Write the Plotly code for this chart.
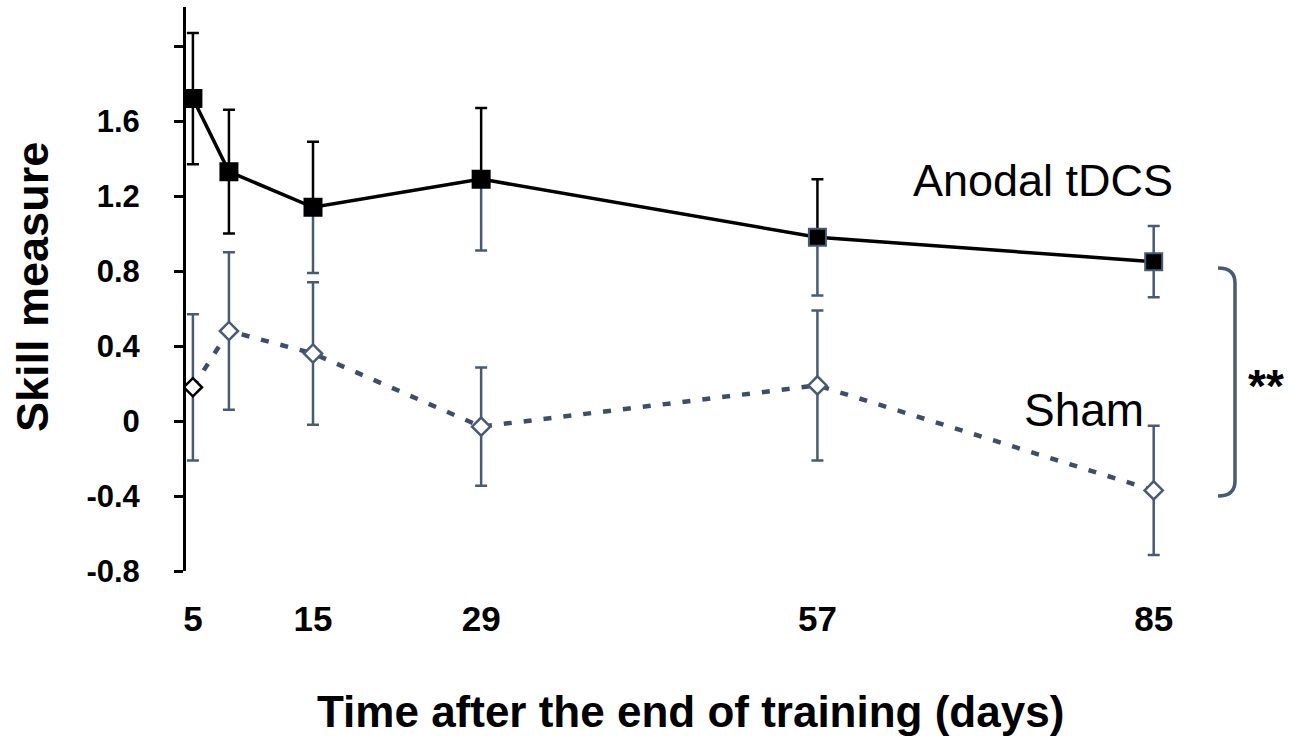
import plotly.graph_objects as go

# ---------------- data ----------------
days = [5, 8, 15, 29, 57, 85]
anodal = [1.72, 1.33, 1.14, 1.29, 0.98, 0.85]
anodal_err = [0.35, 0.33, 0.35, 0.38, 0.31, 0.19]
sham = [0.18, 0.48, 0.36, -0.03, 0.19, -0.37]
sham_err = [0.39, 0.42, 0.38, 0.315, 0.40, 0.345]

x_tick_vals = [5, 15, 29, 57, 85]
x_tick_text = ["5", "15", "29", "57", "85"]
y_tick_vals = [-0.8, -0.4, 0, 0.4, 0.8, 1.2, 1.6, 2.0]
y_tick_text = ["-0.8", "-0.4", "0", "0.4", "0.8", "1.2", "1.6", ""]

# ---------------- style ----------------
W, H = 1289, 737
L, R, T, B = 186, 1210, 7, 571
BLACK = "#000000"
SLATE = "#4a5a74"
DASHC = "#3f4d66"
FONT = "Liberation Sans, Arial, sans-serif"

def px(xp):
    return (xp - L) / (R - L)

def py(yp):
    return (B - yp) / (B - T)

n = len(days)
# which halves of the anodal error bars are drawn in black
upper_black = [True, True, True, True, True, False]
lower_black = [True, True, False, False, False, False]

fig = go.Figure()

# sham error bars
fig.add_trace(go.Scatter(
    x=days, y=sham, mode="markers", marker=dict(opacity=0, size=1),
    error_y=dict(type="data", array=sham_err, color=SLATE, thickness=2.5, width=6),
    hoverinfo="skip", showlegend=False))

# anodal error bars (slate parts)
fig.add_trace(go.Scatter(
    x=days, y=anodal, mode="markers", marker=dict(opacity=0, size=1),
    error_y=dict(type="data", symmetric=False,
                 array=[0 if upper_black[i] else anodal_err[i] for i in range(n)],
                 arrayminus=[0 if lower_black[i] else anodal_err[i] for i in range(n)],
                 color=SLATE, thickness=2.5, width=6),
    hoverinfo="skip", showlegend=False))

# anodal error bars (black parts)
fig.add_trace(go.Scatter(
    x=days, y=anodal, mode="markers", marker=dict(opacity=0, size=1),
    error_y=dict(type="data", symmetric=False,
                 array=[anodal_err[i] if upper_black[i] else 0 for i in range(n)],
                 arrayminus=[anodal_err[i] if lower_black[i] else 0 for i in range(n)],
                 color=BLACK, thickness=2.5, width=6),
    hoverinfo="skip", showlegend=False))

# sham line
fig.add_trace(go.Scatter(
    x=days, y=sham, mode="lines+markers", name="Sham",
    line=dict(color=DASHC, width=4.5, dash="8px,12px"),
    marker=dict(symbol="diamond", size=14, color="white",
                line=dict(color=[BLACK] + [SLATE] * (n - 1), width=2.5)),
    showlegend=False))

# anodal line
fig.add_trace(go.Scatter(
    x=days, y=anodal, mode="lines+markers", name="Anodal tDCS",
    line=dict(color=BLACK, width=3.5),
    marker=dict(symbol="square", size=17, color=BLACK,
                line=dict(color=[BLACK, BLACK, BLACK, BLACK, SLATE, SLATE], width=2)),
    showlegend=False))

# pixel->data for axis ranges
def x_of(xp):
    return 15 + (xp - 313) / 12.01

def y_of(yp):
    return (421 - yp) / 187.5

fig.update_xaxes(
    range=[x_of(L), x_of(R)], showline=False, showgrid=False, zeroline=False,
    ticks="", tickvals=x_tick_vals, ticktext=x_tick_text,
    tickfont=dict(family=FONT, size=35, color=BLACK, weight="bold"),
    ticklabelstandoff=24)

fig.update_yaxes(
    range=[y_of(B), y_of(T)], showline=True, linecolor=BLACK, linewidth=3,
    showgrid=False, zeroline=False,
    ticks="outside", ticklen=9, tickwidth=3, tickcolor=BLACK,
    tickvals=y_tick_vals, ticktext=y_tick_text,
    tickfont=dict(family=FONT, size=31, color=BLACK, weight="bold"),
    ticklabelstandoff=28)

def ann(text, xp, yp, size, bold=False, angle=0):
    f = dict(family=FONT, size=size, color=BLACK)
    if bold:
        f["weight"] = "bold"
    return dict(text=text, x=px(xp), y=py(yp), xref="paper", yref="paper",
                xanchor="center", yanchor="middle", showarrow=False,
                textangle=angle, font=f)

annotations = [
    ann("Anodal tDCS", 1043, 181, 45),
    ann("Sham", 1084, 410, 46),
    ann("**", 1266, 386, 46, bold=True),
    ann("Time after the end of training (days)", 690, 711, 44, bold=True),
    ann("Skill measure", 32, 287, 45, bold=True, angle=-90),
]

# bracket
x0, x1 = px(1218), px(1235)
ytop, ybot = py(268), py(496)
ry = py(268) - py(283)
bracket = (f"M {x0},{ytop} Q {x1},{ytop} {x1},{ytop - ry} "
           f"L {x1},{ybot + ry} Q {x1},{ybot} {x0},{ybot}")

fig.update_layout(
    width=W, height=H,
    margin=dict(l=L, r=W - R, t=T, b=H - B),
    paper_bgcolor="white", plot_bgcolor="white",
    annotations=annotations,
    shapes=[dict(type="path", path=bracket, xref="paper", yref="paper",
                 line=dict(color=SLATE, width=3.5))],
    showlegend=False,
)

fig.write_html("out.html")
